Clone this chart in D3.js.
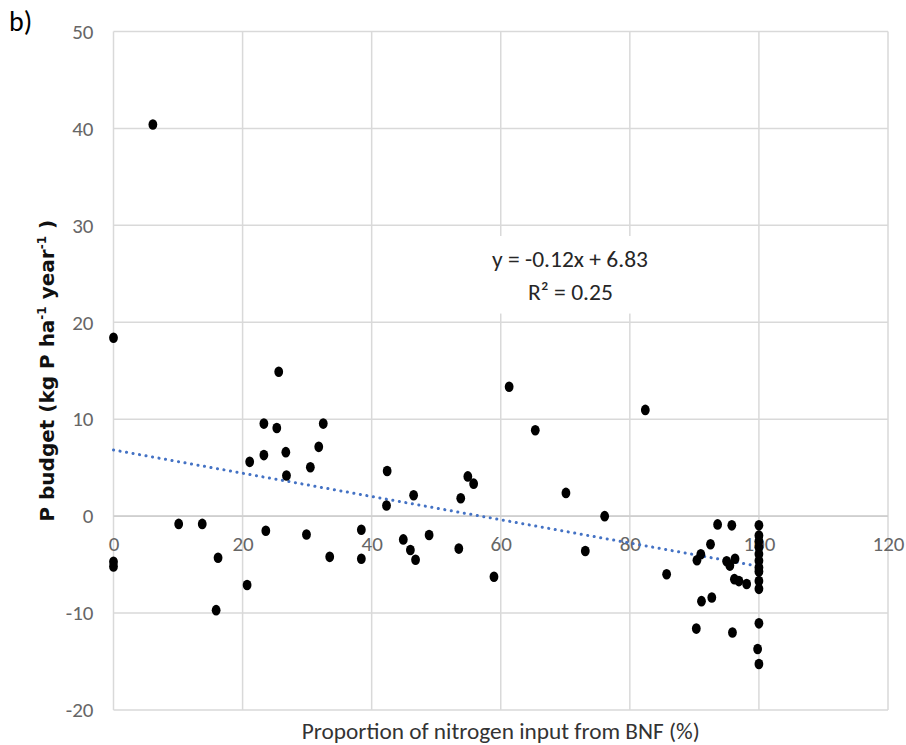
<!DOCTYPE html>
<html>
<head>
<meta charset="utf-8">
<script src="https://cdn.jsdelivr.net/npm/d3@7"></script>
<style>
  html, body { margin: 0; padding: 0; background: #fff; }
  svg { display: block; }
</style>
</head>
<body>
<svg id="chart" width="906" height="745"></svg>
<script>
// Proportion of N input from biological nitrogen fixation (%)
const bnfShare = [
  0, 0, 0, 6.1, 10.1, 13.75, 15.9, 16.2, 20.7, 21.1,
  23.3, 23.3, 23.6, 25.3, 25.6, 26.7, 26.8, 29.9, 30.5, 31.8,
  32.5, 33.5, 38.4, 38.4, 42.3, 42.4, 44.9, 46.0, 46.5, 46.8,
  48.9, 53.5, 53.8, 54.9, 55.8, 58.95, 61.3, 65.35, 70.1, 73.1,
  76.1, 82.4, 85.7, 90.3, 90.4, 91.0, 91.1, 92.5, 92.7, 93.6,
  95.0, 95.5, 95.8, 95.9, 96.2, 96.3, 96.9, 98.1,
  100, 100, 100, 100, 100, 100, 100, 100, 100, 100, 100, 99.8, 100
];
// Phosphorus budget (kg P ha-1 year-1)
const pBudget = [
  18.4, -4.7, -5.2, 40.4, -0.8, -0.8, -9.7, -4.3, -7.1, 5.6,
  9.55, 6.3, -1.5, 9.1, 14.9, 6.6, 4.2, -1.9, 5.05, 7.15,
  9.55, -4.2, -1.4, -4.4, 1.1, 4.65, -2.4, -3.5, 2.15, -4.5,
  -1.95, -3.35, 1.85, 4.1, 3.35, -6.25, 13.35, 8.86, 2.4, -3.6,
  0.0, 10.96, -6.0, -11.6, -4.55, -3.93, -8.77, -2.9, -8.4, -0.85,
  -4.65, -5.1, -0.95, -12.0, -6.5, -4.4, -6.7, -7.0,
  -0.95, -2.0, -2.6, -3.2, -3.9, -4.6, -5.3, -5.7, -6.7, -7.5, -11.06, -13.7, -15.25
];

const xTicks = [0, 20, 40, 60, 80, 100, 120];
const yTicks = [-20, -10, 0, 10, 20, 30, 40, 50];

// Linear trendline as reported on the chart
const trendSlope = -0.12;
const trendIntercept = 6.83;
const trendRange = [0, 100];
const equationLines = ["y = -0.12x + 6.83", "R² = 0.25"];

const svg = d3.select("#chart");
const W = 906, H = 745;
const plot = { left: 113.5, right: 888, top: 31.5, bottom: 710 };

const x = d3.scaleLinear().domain([0, 120]).range([plot.left, plot.right]);
const y = d3.scaleLinear().domain([-20, 50]).range([plot.bottom, plot.top]);

const tickFont = "Carlito, 'Liberation Sans Narrow', 'Open Sans', sans-serif";
const plainNumber = d => String(d);   // keep ASCII hyphen for negatives

svg.append("rect").attr("width", W).attr("height", H).attr("fill", "#fff");

// Gridlines
const grid = svg.append("g").attr("stroke", "#d9d9d9").attr("stroke-width", 1.5);
grid.selectAll("line.h").data(yTicks).join("line")
  .attr("class", "h")
  .attr("x1", plot.left).attr("x2", plot.right)
  .attr("y1", d => y(d)).attr("y2", d => y(d));
grid.selectAll("line.v").data(xTicks).join("line")
  .attr("class", "v")
  .attr("x1", d => x(d)).attr("x2", d => x(d))
  .attr("y1", plot.top).attr("y2", plot.bottom);

// Horizontal axis sits on y = 0
svg.append("line")
  .attr("x1", plot.left).attr("x2", plot.right)
  .attr("y1", y(0)).attr("y2", y(0))
  .attr("stroke", "#cfcfcf").attr("stroke-width", 1.8);

// Y tick labels
const yAxis = d3.axisLeft(y).tickValues(yTicks).tickFormat(plainNumber).tickSize(0).tickPadding(20);
const gy = svg.append("g").attr("transform", `translate(${plot.left},0)`).call(yAxis);
gy.select(".domain").remove();
gy.selectAll("text")
  .attr("font-family", tickFont).attr("font-size", 21).attr("fill", "#666");

// X tick labels, drawn below the zero line
const xAxis = d3.axisBottom(x).tickValues(xTicks).tickFormat(plainNumber).tickSize(0).tickPadding(20);
const gx = svg.append("g").attr("transform", `translate(0,${y(0)})`).call(xAxis);
gx.select(".domain").remove();
gx.selectAll("text")
  .attr("font-family", tickFont).attr("font-size", 21).attr("fill", "#666");

// Equation label with white backing box
const eq = svg.append("g");
eq.append("rect")
  .attr("x", x(57.5)).attr("y", y(28.9))
  .attr("width", x(85) - x(57.5)).attr("height", y(20.9) - y(28.9))
  .attr("fill", "#fff");
eq.append("text")
  .attr("x", 570).attr("y", 267)
  .attr("text-anchor", "middle")
  .attr("font-family", tickFont).attr("font-size", 23).attr("fill", "#262626")
  .attr("textLength", 156).attr("lengthAdjust", "spacingAndGlyphs")
  .text(equationLines[0]);
eq.append("text")
  .attr("x", 570.5).attr("y", 300)
  .attr("text-anchor", "middle")
  .attr("font-family", tickFont).attr("font-size", 23).attr("fill", "#262626")
  .attr("textLength", 85).attr("lengthAdjust", "spacingAndGlyphs")
  .text(equationLines[1]);

// Trendline (dotted)
svg.append("line")
  .attr("x1", x(trendRange[0])).attr("y1", y(trendSlope * trendRange[0] + trendIntercept))
  .attr("x2", x(trendRange[1])).attr("y2", y(trendSlope * trendRange[1] + trendIntercept))
  .attr("stroke", "#4472c4").attr("stroke-width", 3)
  .attr("stroke-linecap", "round").attr("stroke-dasharray", "0.1 6.5");

// Data points
const pts = bnfShare.map((v, i) => ({ x: v, y: pBudget[i] }));
svg.append("g").selectAll("ellipse").data(pts).join("ellipse")
  .attr("cx", d => x(d.x)).attr("cy", d => y(d.y))
  .attr("rx", 4.4).attr("ry", 5.3)
  .attr("fill", "#000");

// Axis titles
svg.append("text")
  .attr("x", (plot.left + plot.right) / 2).attr("y", 739)
  .attr("text-anchor", "middle")
  .attr("font-family", tickFont).attr("font-size", 23).attr("fill", "#333")
  .attr("textLength", 398).attr("lengthAdjust", "spacingAndGlyphs")
  .text("Proportion of nitrogen input from BNF (%)");

const yt = svg.append("text")
  .attr("transform", `translate(54,${(plot.top + plot.bottom) / 2}) rotate(-90)`)
  .attr("text-anchor", "middle")
  .attr("font-family", "'DejaVu Sans', Verdana, sans-serif")
  .attr("font-weight", "bold").attr("font-size", 20).attr("fill", "#111");
yt.append("tspan").text("P budget (kg P ha");
yt.append("tspan").attr("font-size", 12).attr("dy", -8).text("-1");
yt.append("tspan").attr("dy", 8).text(" year");
yt.append("tspan").attr("font-size", 12).attr("dy", -8).text("-1");
yt.append("tspan").attr("dy", 8).text(" )");

// Panel tag
svg.append("text")
  .attr("x", 9).attr("y", 31)
  .attr("font-family", tickFont).attr("font-size", 28).attr("fill", "#000")
  .text("b)");
</script>
</body>
</html>
